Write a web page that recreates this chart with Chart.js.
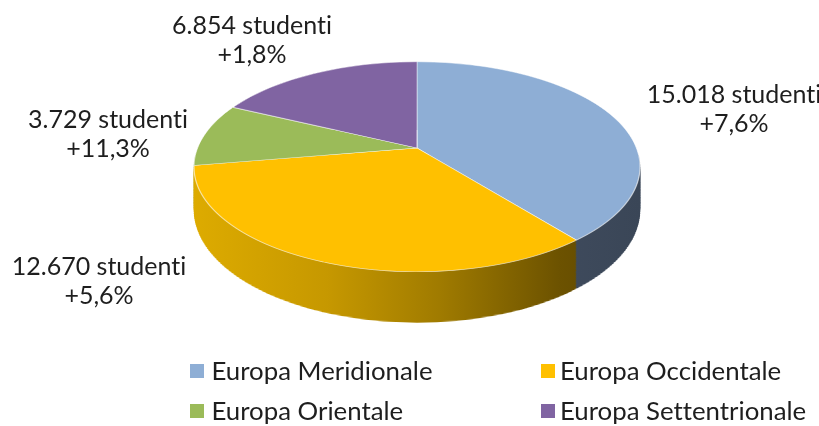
<!DOCTYPE html>
<html><head><meta charset="utf-8">
<script src="https://cdn.jsdelivr.net/npm/chart.js@4"></script>
<style>
html,body{margin:0;padding:0;background:#fff;width:819px;height:426px;overflow:hidden;}
#wrap{position:relative;width:819px;height:426px;}
canvas{position:absolute;left:0;top:0;}
.dl,.lg{font-family:Lato,"Open Sans",sans-serif;font-weight:400;color:#1e1e1e;white-space:nowrap;
  font-variant-ligatures:none;font-feature-settings:"liga" 0,"clig" 0;}
.dl{position:absolute;width:260px;text-align:center;font-size:25px;line-height:29px;}
.lg{position:absolute;font-size:25.8px;line-height:26px;}
.sw{position:absolute;width:14px;height:14px;}
</style></head>
<body><div id="wrap"><canvas id="c" width="819" height="426"></canvas></div>
<script>
// ---- data ----
const categories = ['Europa Meridionale', 'Europa Occidentale', 'Europa Orientale', 'Europa Settentrionale'];
const students = [15018, 12670, 3729, 6854];
const growth = ['+7,6%', '+5,6%', '+11,3%', '+1,8%'];

// ---- styles / layout (kept apart from data) ----
const topColors = ['#8EAED5', '#FFC000', '#9BBB59', '#8064A2'];
const P = { cx: 417, cy: 166.7, rx: 223, ry: 105, apexY: 148, depth0: 42.6 };
const labelAnchor = [ {x: 734, y: 79}, {x: 99, y: 251}, {x: 108, y: 104}, {x: 252, y: 10} ];
const legendCells = [
  {sx: 190, tx: 211.5, y: 357}, {sx: 541, tx: 560, y: 357},
  {sx: 190, tx: 211.5, y: 397}, {sx: 541, tx: 560, y: 397}
];

function fmt(n){ return n.toLocaleString('de-DE'); }

// perspective tilt: projective map of the unit disc onto the screen ellipse
const TT = Math.atanh((P.apexY - P.cy) / P.ry);
const CH = Math.cosh(TT), SH = Math.sinh(TT);
const vOfY = Y => (Y * CH - SH) / (CH - Y * SH);
const kOf = v => 1 / (SH * v + CH);

function stripXform(y0, y1, cx, cy, r, shift) {
  const Ym = ((y0 + y1) / 2 - P.cy) / P.ry;
  const vm = vOfY(Ym);
  const k = kOf(vm);
  const a = P.rx * k / r, d = P.ry * k * k / r;
  const e = P.cx - a * cx;
  const f = P.cy + P.ry * (Ym - k * k * vm) - d * cy + shift * P.depth0 * k;
  return { a, d, e, f, k };
}

function sideFill(ctx, i, m) {
  const ux = X => (X - m.e) / m.a;
  if (i === 1) {
    const g = ctx.createLinearGradient(ux(P.cx - P.rx), 0, ux(P.cx + P.rx), 0);
    g.addColorStop(0, '#DDAB00');
    g.addColorStop(0.3, '#C69800');
    g.addColorStop(0.55, '#A07B00');
    g.addColorStop(0.82, '#6C5200');
    g.addColorStop(1, '#5A4400');
    return g;
  }
  if (i === 0) {
    const g = ctx.createLinearGradient(ux(P.cx + 150), 0, ux(P.cx + P.rx), 0);
    g.addColorStop(0, '#3E4A5C');
    g.addColorStop(1, '#3A4657');
    return g;
  }
  return ['', '', '#7A9842', '#55416F'][i];
}

const pie3d = {
  id: 'pie3d',
  beforeDatasetsDraw(chart) {
    const meta = chart.getDatasetMeta(0);
    const p = meta.data[0].getProps(['x', 'y', 'outerRadius'], true);
    const cx = p.x, cy = p.y, r = p.outerRadius;
    const ctx = chart.ctx;
    const W = chart.width;
    const yTop = Math.floor(P.cy - P.ry) - 1, yBot = Math.ceil(P.cy + P.ry) + 1;
    // side wall: stacked copies of the lower half, deepest first
    const N = 60;
    for (let j = N; j >= 1; j--) {
      const s = j / N;
      for (let y = Math.floor(P.cy - 12); y < yBot; y += 2) {
        const m = stripXform(y, y + 2, cx, cy, r, s);
        const sh = s * P.depth0 * m.k;
        ctx.save();
        ctx.beginPath(); ctx.rect(0, y + sh, W, 2); ctx.clip();
        ctx.transform(m.a, 0, 0, m.d, m.e, m.f);
        meta.data.forEach((a, i) => {
          const o = a.options;
          const bg = o.backgroundColor, bw = o.borderWidth;
          o.backgroundColor = sideFill(ctx, i, m);
          o.borderWidth = 0;
          a.draw(ctx);
          o.backgroundColor = bg; o.borderWidth = bw;
        });
        ctx.restore();
      }
    }
    // top face
    for (let y = yTop; y < yBot; y++) {
      const m = stripXform(y, y + 1, cx, cy, r, 0);
      ctx.save();
      ctx.beginPath(); ctx.rect(0, y, W, 1); ctx.clip();
      ctx.transform(m.a, 0, 0, m.d, m.e, m.f);
      meta.data.forEach(a => a.draw(ctx));
      ctx.restore();
    }
    return false;
  }
};

new Chart(document.getElementById('c'), {
  type: 'pie',
  data: {
    labels: categories,
    datasets: [{
      data: students,
      backgroundColor: topColors,
      borderColor: 'rgba(255,255,255,0.7)',
      borderWidth: 1
    }]
  },
  options: {
    responsive: false,
    devicePixelRatio: 1,
    animation: false,
    rotation: 0,
    plugins: { legend: { display: false }, tooltip: { enabled: false } }
  },
  plugins: [pie3d]
});

// data labels (real text)
const wrap = document.getElementById('wrap');
students.forEach((v, i) => {
  const d = document.createElement('div');
  d.className = 'dl';
  d.style.left = (labelAnchor[i].x - 130) + 'px';
  d.style.top = labelAnchor[i].y + 'px';
  d.innerHTML = fmt(v) + ' studenti<br>' + growth[i];
  wrap.appendChild(d);
});
// legend
categories.forEach((c, i) => {
  const L = legendCells[i];
  const s = document.createElement('div');
  s.className = 'sw';
  s.style.left = L.sx + 'px';
  s.style.top = (L.y + 7) + 'px';
  s.style.background = topColors[i];
  wrap.appendChild(s);
  const t = document.createElement('div');
  t.className = 'lg';
  t.style.left = L.tx + 'px';
  t.style.top = L.y + 'px';
  t.textContent = c;
  wrap.appendChild(t);
});
</script>
</body></html>
